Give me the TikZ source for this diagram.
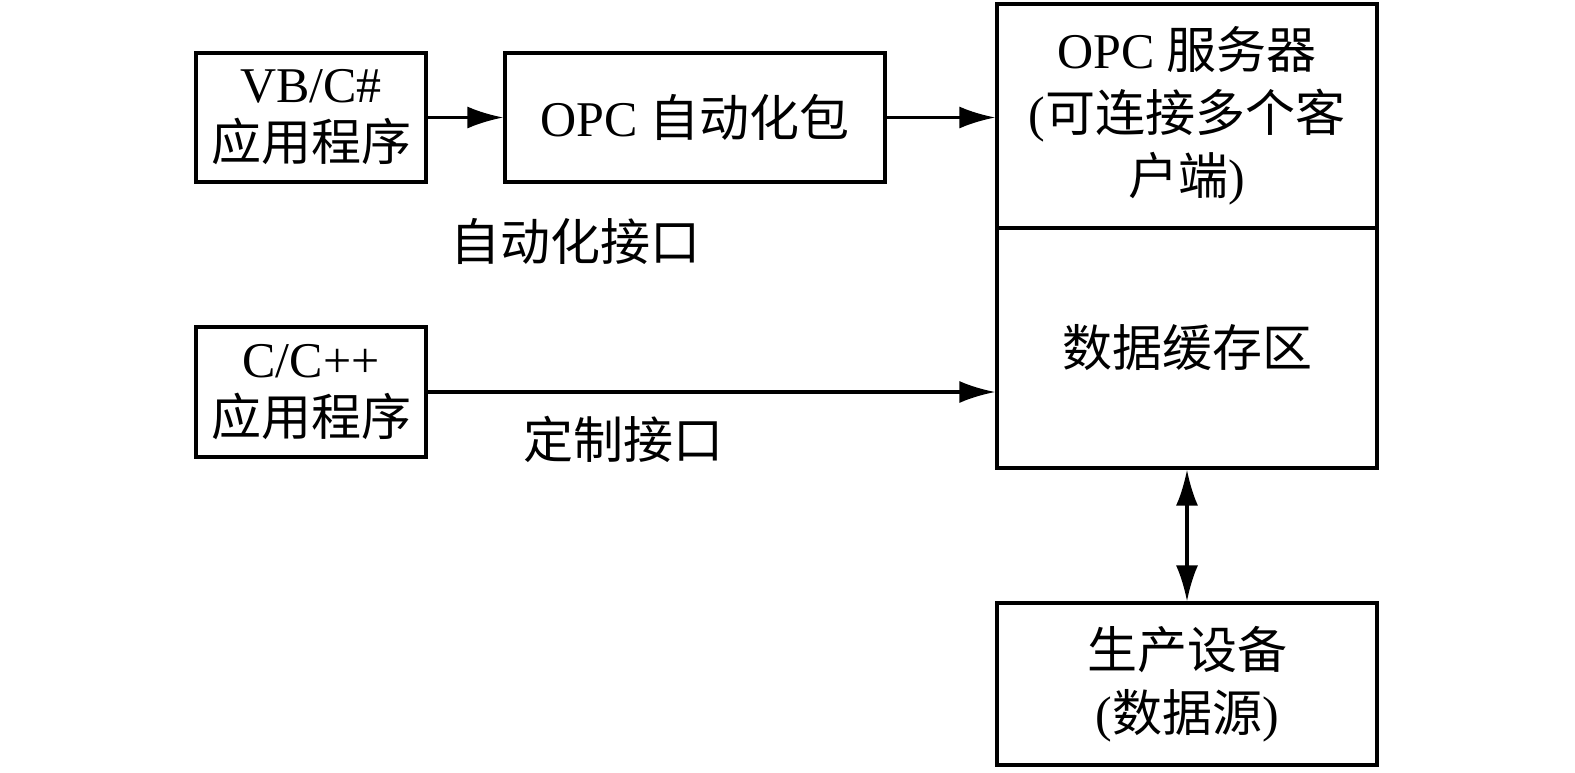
\documentclass[tikz,border=0pt]{standalone}
\usepackage{fontspec}
\setmainfont{Liberation Serif}
\newfontfamily\cjk{Noto Sans CJK SC}
\usetikzlibrary{positioning,arrows.meta}

\tikzset{
  box/.style={draw,line width=1.6pt,inner sep=0pt,align=center,
    font=\fontsize{25}{29}\selectfont},
  lbl/.style={inner sep=0pt,font=\fontsize{25}{29}\selectfont\cjk},
  conn/.style={line width=1.6pt,-{Latex[length=18pt,width=11pt]}},
}

\begin{document}
\begin{tikzpicture}[x=0.5pt,y=-0.5pt]
\useasboundingbox (0,0) rectangle (1575,772);
% clients
\node[box,minimum width=115pt,minimum height=64.5pt] (vb) at (311,117.5) {VB/C\#\\{\cjk 应用程序}};
\node[box,minimum width=115pt,minimum height=65pt] (cpp) at (311,392) {C/C++\\{\cjk 应用程序}};
\node[box,minimum width=190pt,minimum height=64.5pt] (auto) at (695,117.5) {OPC {\cjk 自动化包}};
% server
\node[box,minimum width=190pt,minimum height=112pt,font=\fontsize{25}{31.5}\selectfont] (srv) at (1187,116)
  {OPC {\cjk 服务器}\\({\cjk 可连接多个客}\\{\cjk 户端})};
\node[box,minimum width=190pt,minimum height=120pt,below=-1.6pt of srv] (buf) {{\cjk 数据缓存区}};
\node[box,minimum width=190pt,minimum height=81pt,font=\fontsize{25}{31.5}\selectfont] (dev) at (1187,684)
  {{\cjk 生产设备}\\({\cjk 数据源})};
% interfaces
\node[lbl] (autoif) at (575,241) {自动化接口};
\node[lbl] (custif) at (623,439) {定制接口};

\draw[conn] (vb) -- (auto);
\draw[conn] (auto.east) -- (auto.east -| srv.west);
\draw[conn] (cpp.east) -- (cpp.east -| buf.west);
\draw[conn,{Latex[length=18pt,width=11pt]}-{Latex[length=18pt,width=11pt]}] (buf) -- (dev);
\end{tikzpicture}
\end{document}
